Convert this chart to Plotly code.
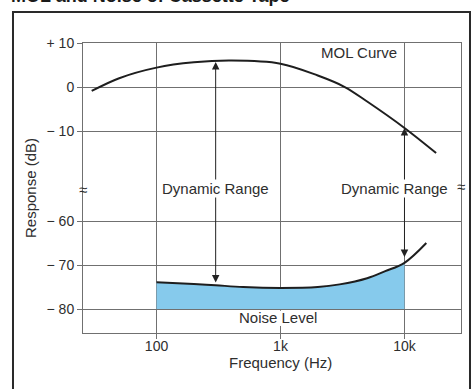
import math
import plotly.graph_objects as go

# ---- data ----
mol_freq = [30, 50, 100, 200, 400, 1000, 2000, 3300, 5000, 10000, 18000]
mol_db = [-0.9, 2.0, 4.4, 5.6, 6.0, 5.3, 2.6, 0.0, -3.3, -9.3, -15.0]

noise_freq = [100, 200, 300, 500, 1000, 2000, 3000, 5000, 7000, 10000, 15000]
noise_db = [-73.9, -74.3, -74.6, -75.0, -75.2, -75.0, -74.4, -73.0, -71.4, -69.5, -65.0]

fill_floor_db = -80
fill_range = [100, 10000]

y_tick_db = [10, 0, -10, -60, -70, -80]
y_tick_text = ["+ 10", "0", "\u2212 10", "\u2212 60", "\u2212 70", "\u2212 80"]
x_tick_vals = [100, 1000, 10000]
x_tick_text = ["100", "1k", "10k"]

dr_left_freq, dr_left_top, dr_left_bot = 300, 5.7, -74.3
dr_right_freq, dr_right_top, dr_right_bot = 10000, -9.3, -68.5

# broken axis: lower segment shifted up
BREAK_OFFSET = 29.55


def disp(db):
    return db if db > -30 else db + BREAK_OFFSET


TXT = "#2e2e2e"
GRID = "#707070"
FONT = "Liberation Sans, Arial, sans-serif"

fig = go.Figure()

# blue fill under the noise curve
fx = [f for f in noise_freq if fill_range[0] <= f <= fill_range[1]]
fy = [disp(d) for f, d in zip(noise_freq, noise_db) if fill_range[0] <= f <= fill_range[1]]
fig.add_trace(go.Scatter(x=[fx[0], fx[-1]], y=[disp(fill_floor_db)] * 2, mode="lines",
                         line=dict(width=0, color="rgba(0,0,0,0)"), hoverinfo="skip", showlegend=False))
fig.add_trace(go.Scatter(x=fx, y=fy, mode="lines", fill="tonexty", fillcolor="#86caec",
                         line=dict(width=0, color="rgba(0,0,0,0)", shape="spline"),
                         hoverinfo="skip", showlegend=False))
# noise line
fig.add_trace(go.Scatter(x=noise_freq, y=[disp(d) for d in noise_db], mode="lines",
                         line=dict(color="#1e1e1e", width=2, shape="spline"), showlegend=False))
# MOL line
fig.add_trace(go.Scatter(x=mol_freq, y=[disp(d) for d in mol_db], mode="lines",
                         line=dict(color="#1e1e1e", width=2, shape="spline"), showlegend=False))

ann = []
for f, top, bot in [(dr_left_freq, dr_left_top, dr_left_bot), (dr_right_freq, dr_right_top, dr_right_bot)]:
    lx = math.log10(f)
    ann.append(dict(x=lx, y=disp(top), ax=lx, ay=disp(bot), xref="x", yref="y", axref="x", ayref="y",
                    text="", showarrow=True, arrowhead=2, startarrowhead=2, arrowside="end+start",
                    arrowsize=1.5, startarrowsize=1.5, arrowwidth=1, arrowcolor="#222", standoff=0, startstandoff=0))

def txt(x, y, s, size=15, **kw):
    d = dict(x=x, y=y, xref="x", yref="y", text=s, showarrow=False,
             font=dict(family=FONT, size=size, color=TXT))
    d.update(kw)
    return d

ann.append(txt(math.log10(300), -23.0, "Dynamic Range", bgcolor="white", borderpad=0))
ann.append(txt(math.log10(8300), -23.0, "Dynamic Range", bgcolor="white", borderpad=0))
ann.append(txt(math.log10(4300), 7.8, "MOL Curve"))
ann.append(txt(math.log10(960), disp(-82.0), "Noise Level"))
# axis-break marks
ann.append(dict(x=0, y=-23.4, xref="paper", yref="y", xanchor="center", text="\u2248", showarrow=False,
                font=dict(family=FONT, size=15, color=TXT)))
ann.append(dict(x=1, y=-22.6, xref="paper", yref="y", xanchor="center", text="\u2248", showarrow=False,
                font=dict(family=FONT, size=15, color=TXT)))
# x-axis title
ann.append(dict(x=math.log10(1000), y=-0.1034, xref="x", yref="paper", text="Frequency (Hz)",
                showarrow=False, yanchor="middle", font=dict(family=FONT, size=15, color=TXT)))
# clipped title
ann.append(dict(x=-0.196, y=1.122, xref="paper", yref="paper", xanchor="left", yanchor="bottom",
                text="<b>MOL and Noise of Cassette Tape</b>", showarrow=False,
                font=dict(family=FONT, size=18, color="#1a1a1a")))

fig.update_layout(
    width=472, height=389,
    margin=dict(l=83, r=11, t=43, b=56),
    paper_bgcolor="white", plot_bgcolor="white",
    annotations=ann,
    shapes=[
        dict(type="rect", xref="paper", yref="paper", x0=-0.1852, x1=1.0238, y0=-0.25, y1=1.1069,
             line=dict(color="#2a2a2a", width=2), layer="below"),
        # white patch hiding the 1k gridline behind the "Noise Level" label
        dict(type="rect", xref="paper", yref="y", x0=0.49, x1=0.56, y0=-54.3, y1=-50.85,
             fillcolor="white", line=dict(width=0), layer="above"),
    ],
    font=dict(family=FONT, color=TXT),
)
fig.update_xaxes(type="log", range=[1.407, 4.456], tickvals=x_tick_vals, ticktext=x_tick_text,
                 showgrid=True, gridcolor=GRID, gridwidth=1, showline=True, linecolor=GRID, mirror=True,
                 ticks="outside", ticklen=5, tickcolor=GRID, zeroline=False, ticklabelstandoff=-5,
                 tickfont=dict(family=FONT, size=14, color=TXT))
fig.update_yaxes(range=[-55.9, 10], tickvals=[disp(v) for v in y_tick_db], ticktext=y_tick_text,
                 showgrid=True, gridcolor=GRID, gridwidth=1, showline=True, linecolor=GRID, mirror=True,
                 ticks="outside", ticklen=5, tickcolor=GRID, zeroline=False,
                 tickfont=dict(family=FONT, size=14, color=TXT),
                 title=dict(text="Response (dB)", standoff=6, font=dict(family=FONT, size=15, color=TXT)))

fig.write_html("out.html")
